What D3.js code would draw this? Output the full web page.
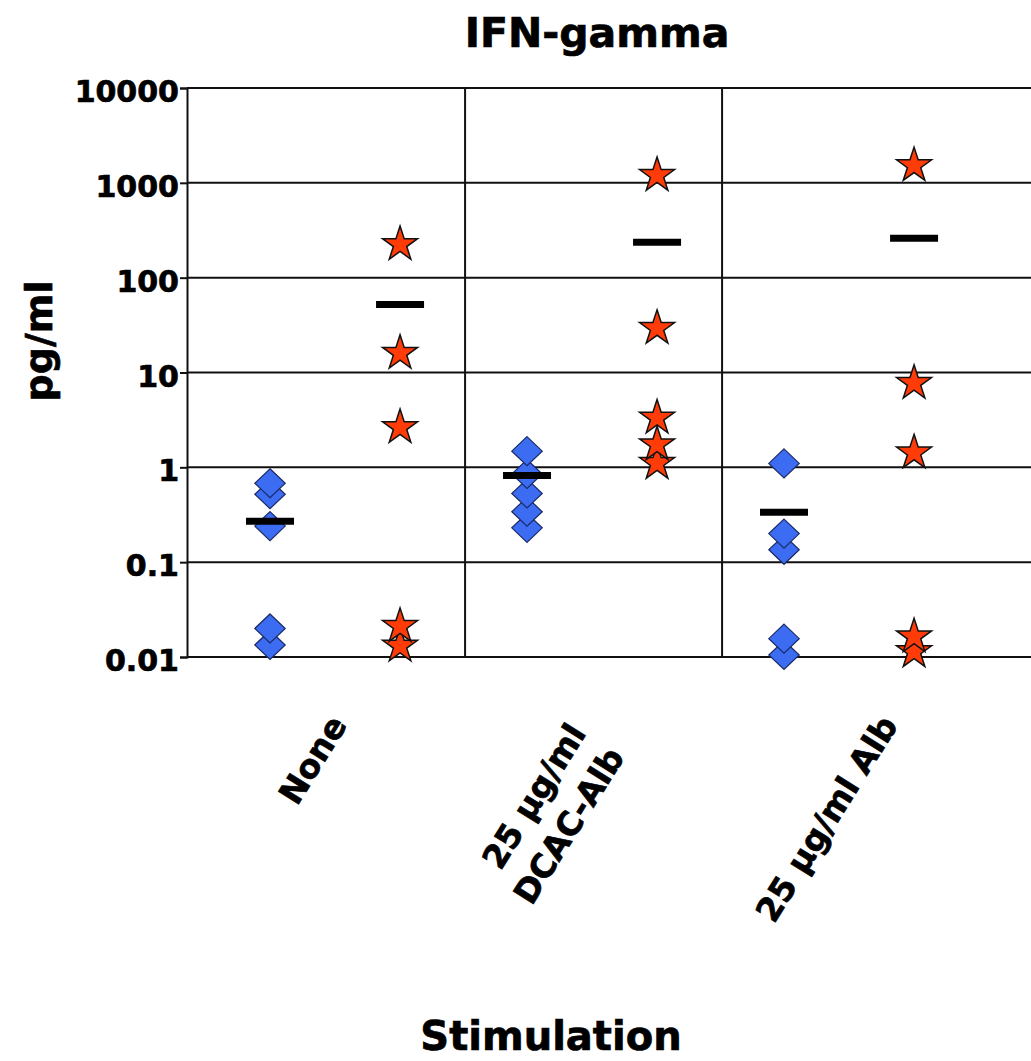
<!DOCTYPE html>
<html>
<head>
<meta charset="utf-8">
<script src="https://cdn.jsdelivr.net/npm/d3@7"></script>
<style>
  html, body { margin: 0; padding: 0; background: #fff; }
  svg { display: block; }
  text { font-family: "DejaVu Sans", "Liberation Sans", sans-serif; font-weight: bold; fill: #000; stroke: #000; stroke-width: 0.7px; }
</style>
</head>
<body>
<svg id="chart" width="1031" height="1061"></svg>
<script>
// ---- data ----
const categories = ["None", "25 µg/ml DCAC-Alb", "25 µg/ml Alb"];
const categoryLines = [["None"], ["25 µg/ml", "DCAC-Alb"], ["25 µg/ml Alb"]];
const blueValues = [
  [0.68, 0.52, 0.24, 0.020, 0.0134],
  [1.48, 0.85, 0.53, 0.34, 0.23],
  [1.1, 0.20, 0.135, 0.0156, 0.0105]
];
const redValues = [
  [230, 16.4, 2.7, 0.0216, 0.0134],
  [1230, 30, 3.4, 1.78, 1.13],
  [1560, 7.9, 1.46, 0.0168, 0.0117]
];
const blueMeans = [0.27, 0.82, 0.335];
const redMeans = [52, 236, 260];
const tickValues = [10000, 1000, 100, 10, 1, 0.1, 0.01];
const tickLabels = ["10000", "1000", "100", "10", "1", "0.1", "0.01"];
const titleText = "IFN-gamma";
const xTitle = "Stimulation";
const yTitle = "pg/ml";

// ---- layout ----
const svg = d3.select("#chart");
const plotLeft = 187, plotRight = 1031, plotTop = 88, plotBottom = 657;
const y = d3.scaleLog().domain([0.01, 10000]).range([plotBottom, plotTop]);
const x = d3.scaleLinear().domain([-0.582, 2.702]).range([plotLeft, plotRight]);
const blueOffset = -0.259, redOffset = 0.247;
const lineColor = "#111";

// horizontal gridlines
svg.append("g").selectAll("line").data(tickValues).join("line")
  .attr("x1", plotLeft).attr("x2", plotRight)
  .attr("y1", d => y(d)).attr("y2", d => y(d))
  .attr("stroke", lineColor).attr("stroke-width", 2);

// vertical dividers between categories
svg.append("g").selectAll("line").data(categories.slice(0, -1)).join("line")
  .attr("x1", (d, i) => x(i + 0.5)).attr("x2", (d, i) => x(i + 0.5))
  .attr("y1", plotTop).attr("y2", plotBottom)
  .attr("stroke", lineColor).attr("stroke-width", 2);

// y axis
const yAxis = d3.axisLeft(y).tickValues(tickValues)
  .tickFormat((d, i) => tickLabels[i]).tickSize(7).tickPadding(1);
const ag = svg.append("g").attr("transform", `translate(${plotLeft},0)`).call(yAxis);
ag.select(".domain").attr("stroke", lineColor).attr("stroke-width", 2);
ag.selectAll(".tick line").attr("stroke", lineColor).attr("stroke-width", 2);
ag.selectAll(".tick text")
  .style("font-family", '"DejaVu Sans", sans-serif')
  .style("font-weight", "bold")
  .attr("font-size", 30).attr("fill", "#000").attr("dy", "0.45em");

// symbols
const diamondType = {
  draw(ctx, size) {
    const r = Math.sqrt(size) / 2;
    ctx.moveTo(0, -r); ctx.lineTo(r * 1.05, 0); ctx.lineTo(0, r); ctx.lineTo(-r * 1.05, 0); ctx.closePath();
  }
};
const diamondPath = d3.symbol().type(diamondType).size(29 * 29)();
const starPath = d3.symbol().type(d3.symbolStar).size(380)();

const pts = [];
categories.forEach((c, i) => {
  blueValues[i].forEach(v => pts.push({ i, v }));
});
const rpts = [];
categories.forEach((c, i) => {
  redValues[i].forEach(v => rpts.push({ i, v }));
});

svg.append("g").selectAll("path").data(pts.slice().reverse()).join("path")
  .attr("d", diamondPath)
  .attr("transform", d => `translate(${x(d.i + blueOffset)},${y(d.v)})`)
  .attr("fill", "#3b6cf2").attr("stroke", "#1b2a66").attr("stroke-width", 1.2);

svg.append("g").selectAll("path").data(rpts.slice().reverse()).join("path")
  .attr("d", starPath)
  .attr("transform", d => `translate(${x(d.i + redOffset)},${y(d.v) + 1})`)
  .attr("fill", "#ff3c08").attr("stroke", "#111").attr("stroke-width", 1.5)
  .attr("stroke-linejoin", "miter");

// mean bars
const means = [];
categories.forEach((c, i) => {
  means.push({ x: i + blueOffset, v: blueMeans[i] });
  means.push({ x: i + redOffset, v: redMeans[i] });
});
svg.append("g").selectAll("line").data(means).join("line")
  .attr("x1", d => x(d.x) - 24).attr("x2", d => x(d.x) + 24)
  .attr("y1", d => y(d.v)).attr("y2", d => y(d.v))
  .attr("stroke", "#000").attr("stroke-width", 7);

// category labels (rotated)
const ang = 58, rad = ang * Math.PI / 180;
const cosA = Math.cos(rad), sinA = Math.sin(rad);
const labelSize = 33, lineGap = 45, labelTop = 719;
const multiShiftX = -20, multiShiftY = 8;
categoryLines.forEach((lines, i) => {
  const g = svg.append("g");
  const texts = lines.map(t => g.append("text").attr("font-size", labelSize)
    .attr("text-anchor", "end").attr("dy", "0.35em").text(t));
  const L = d3.max(texts, t => t.node().getComputedTextLength());
  const n = lines.length;
  const xt = x(i) - 24;
  const ax = xt + L * cosA / 2 + (n > 1 ? multiShiftX : 0);
  const ay = labelTop + (n - 1) * lineGap / 2 * cosA + (n > 1 ? multiShiftY : 0);
  texts.forEach((t, j) => {
    const k = (j - (n - 1) / 2) * lineGap;
    t.attr("transform", `translate(${ax + k * sinA},${ay + k * cosA}) rotate(${-ang})`);
  });
});

// titles
svg.append("text").attr("x", 597).attr("y", 47).attr("text-anchor", "middle")
  .attr("font-size", 41).text(titleText);
svg.append("text").attr("x", 551).attr("y", 1050).attr("text-anchor", "middle")
  .attr("font-size", 40).text(xTitle);
svg.append("text").attr("transform", "translate(52,341) rotate(-90)")
  .attr("text-anchor", "middle").attr("font-size", 38).text(yTitle);
</script>
</body>
</html>
